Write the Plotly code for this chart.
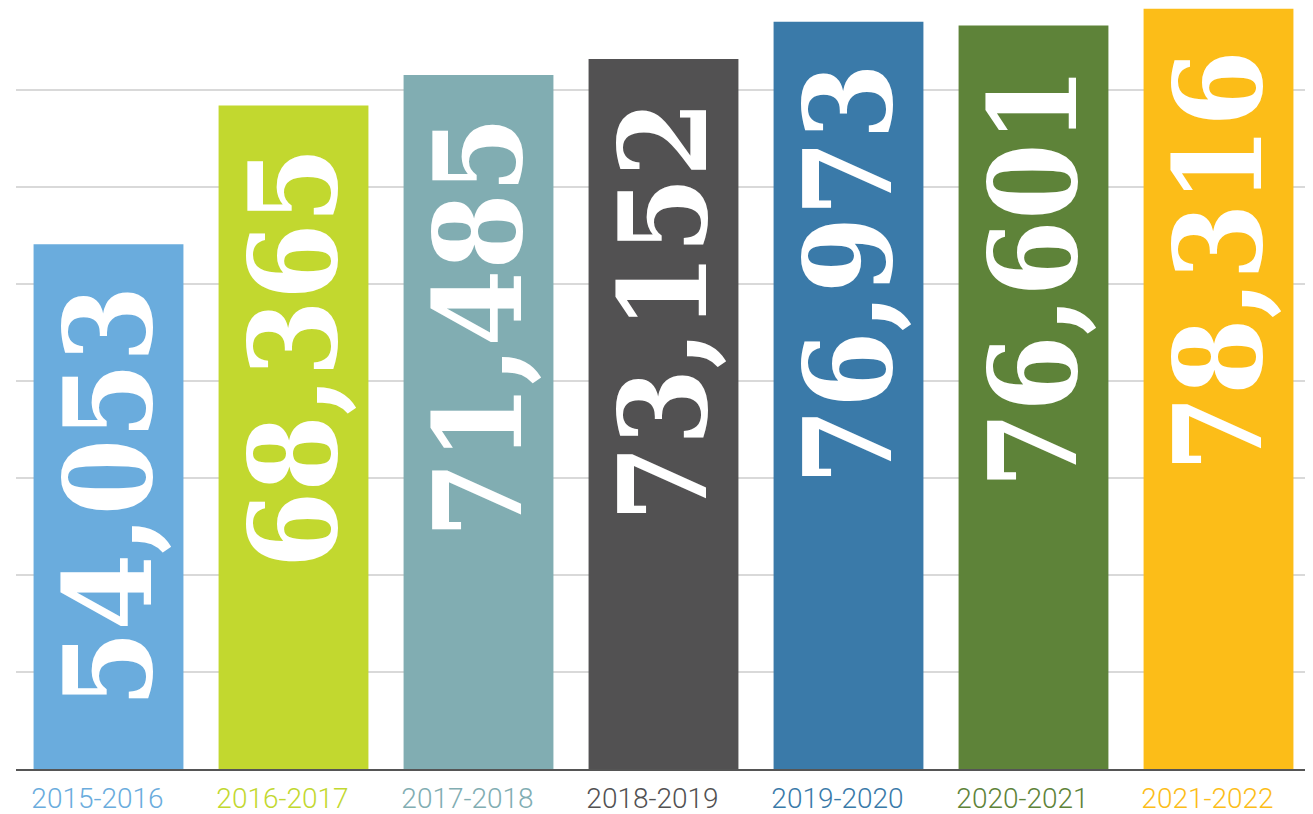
import plotly.graph_objects as go

categories = ["2015-2016", "2016-2017", "2017-2018", "2018-2019", "2019-2020", "2020-2021", "2021-2022"]
values = [54053, 68365, 71485, 73152, 76973, 76601, 78316]
colors = ["#6aacdd", "#c2d82f", "#81adb2", "#525152", "#3a7aa9", "#5e8339", "#fcbd18"]

ticktext = [f"<span style='color:{c}'>{cat}</span>" for cat, c in zip(categories, colors)]

fig = go.Figure(
    go.Bar(
        x=categories,
        y=values,
        marker=dict(color=colors, line=dict(width=0)),
        texttemplate="%{y:,.0f}\u00a0",
        textposition="inside",
        insidetextanchor="end",
        textangle=-90,
        textfont=dict(family="DejaVu Serif Condensed, DejaVu Serif", size=126, color="white", weight="bold"),
        hoverinfo="skip",
    )
)

# page body adds an 8px offset, so the figure is sized to fill the rest of the window
fig.update_layout(
    width=1305,
    height=806,
    margin=dict(l=8, r=2, t=0, b=45),
    paper_bgcolor="white",
    plot_bgcolor="white",
    bargap=0.19,
    showlegend=False,
    uniformtext=dict(minsize=122, mode="show"),
)

fig.update_xaxes(
    tickmode="array",
    tickvals=categories,
    ticktext=ticktext,
    tickfont=dict(family="Roboto", size=28, weight=300),
    showline=True,
    linecolor="#555555",
    linewidth=1.5,
    ticks="",
    ticklabelshift=-11,
    ticklabelstandoff=4,
    automargin=False,
)

fig.update_yaxes(
    range=[0, 78400],
    dtick=10000,
    showticklabels=False,
    showgrid=True,
    gridcolor="#d9d9d9",
    gridwidth=1.5,
    zeroline=False,
    automargin=False,
)

fig.write_html("out.html")
